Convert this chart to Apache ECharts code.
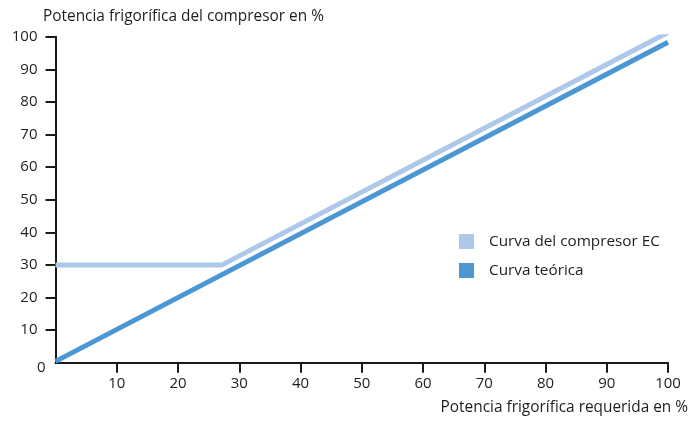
<!DOCTYPE html>
<html>
<head>
<meta charset="utf-8">
<script src="https://cdn.jsdelivr.net/npm/echarts@6/dist/echarts.min.js"></script>
<style>html,body{margin:0;padding:0;background:#fff}#c{width:690px;height:421px}</style>
</head>
<body>
<div id="c"></div>
<script>
var xTicks = [10, 20, 30, 40, 50, 60, 70, 80, 90, 100];
var yTicks = [10, 20, 30, 40, 50, 60, 70, 80, 90, 100];
var compresorEC = [[0, 30], [27.2, 30], [100, 101.3]];
var teorica = [[0, 0.4], [100, 98.3]];
var seriesNames = ['Curva del compresor EC', 'Curva teórica'];
var xTitle = 'Potencia frigorífica requerida en %';
var yTitle = 'Potencia frigorífica del compresor en %';

var FONT = 'Open Sans';
var chart = echarts.init(document.getElementById('c'));
chart.setOption({
  animation: false,
  color: ['#aec8ea', '#4a97d3'],
  grid: { left: 55.5, right: 22, top: 36.7, bottom: 58.3, containLabel: false },
  legend: {
    orient: 'vertical', left: 454, top: 229, itemWidth: 15, itemHeight: 15, itemGap: 14,
    icon: 'rect',
    textStyle: { fontFamily: FONT, fontSize: 15.3, color: '#1e1e1e', padding: [0, 0, 0, 10] },
    data: seriesNames
  },
  xAxis: {
    type: 'value', min: 0, max: 100, interval: 10,
    axisLine: { lineStyle: { color: '#1a1a1a', width: 2 } },
    axisTick: { show: true, length: 10, customValues: xTicks, lineStyle: { color: '#1a1a1a', width: 2 } },
    axisLabel: { customValues: xTicks, margin: 14, fontFamily: FONT, fontSize: 15, color: '#1e1e1e' },
    splitLine: { show: false }
  },
  yAxis: {
    type: 'value', min: 0, max: 100, interval: 10,
    axisLine: { lineStyle: { color: '#1a1a1a', width: 2 } },
    axisTick: { show: true, length: 10, customValues: yTicks, lineStyle: { color: '#1a1a1a', width: 2 } },
    axisLabel: { customValues: yTicks, margin: 18, fontFamily: FONT, fontSize: 15, color: '#1e1e1e' },
    splitLine: { show: false }
  },
  graphic: [
    { type: 'text', left: 43, top: 9, style: { text: yTitle, fontFamily: FONT, fontSize: 15.4, fill: '#1e1e1e' } },
    { type: 'text', right: 2, top: 400, style: { text: xTitle, fontFamily: FONT, fontSize: 15.4, fill: '#1e1e1e' } },
    { type: 'text', left: 37, top: 360, style: { text: '0', fontFamily: FONT, fontSize: 15, fill: '#1e1e1e' } }
  ],
  series: [
    { name: seriesNames[0], type: 'line', data: compresorEC, showSymbol: false, lineStyle: { width: 5, color: '#aec8ea' }, z: 2 },
    { name: seriesNames[1], type: 'line', data: teorica, showSymbol: false, lineStyle: { width: 5, color: '#4a97d3' }, z: 3 }
  ]
});
</script>
</body>
</html>
